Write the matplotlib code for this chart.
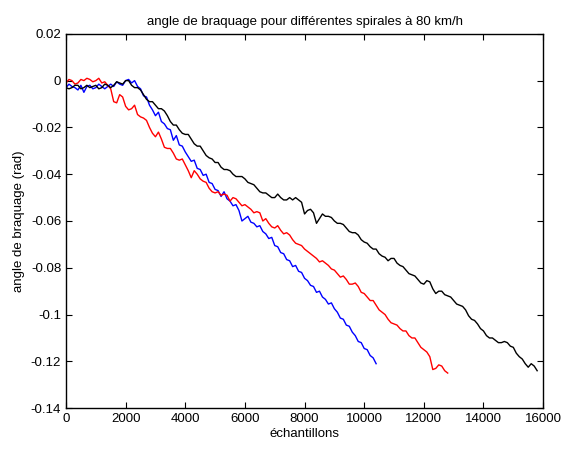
import numpy as np
import matplotlib
matplotlib.use('Agg')
import matplotlib.pyplot as plt

plt.rcParams['font.family'] = ['Liberation Sans', 'DejaVu Sans']

# --- Data (one value every 100 samples) ---
blue_x = np.arange(0, 10401, 100)
blue_y = [-0.003, -0.0015, -0.0025, -0.003, -0.004, -0.002, -0.005, -0.0025, -0.002, -0.0035,
          -0.003, -0.0015, -0.0025, -0.0035, -0.0025, -0.0015, -0.0025, -0.0005, -0.0015, -0.002,
          0.000, 0.0005, -0.001, 0.000, -0.0025, -0.0035, -0.0065, -0.007, -0.0105, -0.0125,
          -0.015, -0.0135, -0.0175, -0.0185, -0.0205, -0.021, -0.0255, -0.0235, -0.0275, -0.028,
          -0.0305, -0.0325, -0.0345, -0.034, -0.0375, -0.038, -0.0405, -0.040, -0.0435, -0.044,
          -0.0465, -0.047, -0.0495, -0.0475, -0.0505, -0.0515, -0.0535, -0.053, -0.0555, -0.060,
          -0.059, -0.058, -0.0605, -0.061, -0.0625, -0.062, -0.0645, -0.0655, -0.0675, -0.067,
          -0.0705, -0.071, -0.0735, -0.074, -0.0765, -0.077, -0.0795, -0.079, -0.0815, -0.082,
          -0.0845, -0.0855, -0.0875, -0.088, -0.0905, -0.090, -0.0925, -0.0935, -0.0955, -0.095,
          -0.0975, -0.099, -0.1015, -0.102, -0.1045, -0.105, -0.1075, -0.109, -0.1115, -0.112,
          -0.1145, -0.115, -0.1175, -0.1185, -0.121]

red_x = np.arange(0, 12801, 100)
red_y = [-0.001, 0.0005, 0.000, -0.0015, -0.001, 0.0005, 0.000, 0.001, 0.0005, -0.0005,
         0.000, 0.001, -0.001, -0.0005, -0.002, -0.0035, -0.009, -0.0095, -0.006, -0.007,
         -0.011, -0.0125, -0.012, -0.0105, -0.0145, -0.0155, -0.016, -0.017, -0.020, -0.0225,
         -0.024, -0.022, -0.025, -0.0285, -0.029, -0.029, -0.031, -0.0335, -0.034, -0.0335,
         -0.036, -0.0385, -0.0415, -0.0385, -0.040, -0.042, -0.043, -0.0435, -0.046, -0.0475,
         -0.048, -0.0475, -0.049, -0.0485, -0.049, -0.0515, -0.050, -0.0505, -0.052, -0.0535,
         -0.053, -0.054, -0.055, -0.0565, -0.056, -0.0565, -0.060, -0.059, -0.061, -0.0625,
         -0.063, -0.062, -0.064, -0.0655, -0.065, -0.066, -0.068, -0.0695, -0.070, -0.0705,
         -0.072, -0.073, -0.074, -0.0750, -0.076, -0.0775, -0.077, -0.078, -0.079, -0.0805,
         -0.081, -0.0825, -0.084, -0.0835, -0.085, -0.087, -0.087, -0.0865, -0.088, -0.0905,
         -0.091, -0.0925, -0.094, -0.094, -0.096, -0.098, -0.099, -0.100, -0.102, -0.1035,
         -0.104, -0.1045, -0.106, -0.107, -0.107, -0.109, -0.110, -0.1100, -0.112, -0.1140,
         -0.115, -0.1160, -0.118, -0.1235, -0.123, -0.1215, -0.122, -0.1240, -0.125]

black_x = np.arange(0, 15801, 100)
black_y = [-0.003, -0.0035, -0.003, -0.002, -0.002, -0.0035, -0.003, -0.002, -0.003, -0.0025,
           -0.002, -0.0035, -0.003, -0.0015, -0.002, -0.003, -0.002, -0.0005, -0.001, -0.0015,
           0.000, 0.000, -0.002, -0.003, -0.003, -0.004, -0.006, -0.008, -0.009, -0.009,
           -0.0105, -0.012, -0.012, -0.013, -0.015, -0.0175, -0.019, -0.019, -0.021, -0.0225,
           -0.023, -0.023, -0.025, -0.027, -0.028, -0.028, -0.030, -0.032, -0.033, -0.0335,
           -0.035, -0.0350, -0.037, -0.038, -0.038, -0.0385, -0.040, -0.041, -0.041, -0.0410,
           -0.042, -0.0435, -0.044, -0.0445, -0.046, -0.0475, -0.048, -0.048, -0.049, -0.050,
           -0.050, -0.0485, -0.050, -0.0510, -0.051, -0.0500, -0.051, -0.0500, -0.051, -0.052,
           -0.057, -0.0555, -0.055, -0.0565, -0.061, -0.0590, -0.057, -0.0580, -0.058, -0.0585,
           -0.060, -0.0610, -0.061, -0.0615, -0.063, -0.0645, -0.065, -0.0650, -0.066, -0.068,
           -0.069, -0.0695, -0.071, -0.0720, -0.072, -0.0740, -0.075, -0.0755, -0.077, -0.0760,
           -0.076, -0.0780, -0.079, -0.0795, -0.081, -0.0825, -0.083, -0.0835, -0.085, -0.0865,
           -0.087, -0.0855, -0.086, -0.0890, -0.091, -0.0900, -0.090, -0.0915, -0.092, -0.0925,
           -0.094, -0.0955, -0.096, -0.0965, -0.098, -0.1005, -0.102, -0.1025, -0.104, -0.1060,
           -0.107, -0.1090, -0.110, -0.1100, -0.111, -0.1120, -0.112, -0.1115, -0.112, -0.1135,
           -0.114, -0.1165, -0.118, -0.1190, -0.121, -0.1225, -0.121, -0.1220, -0.124]

x_ticks = [0, 2000, 4000, 6000, 8000, 10000, 12000, 14000, 16000]
y_ticks = [0.02, 0, -0.02, -0.04, -0.06, -0.08, -0.1, -0.12, -0.14]
y_labels = ['0.02', '0', '-0.02', '-0.04', '-0.06', '-0.08', '-0.1', '-0.12', '-0.14']

fig = plt.figure(figsize=(5.64, 4.51), dpi=100)
ax = fig.add_axes([0.117, 0.095, 0.846, 0.83])

ax.plot(blue_x, blue_y, color='blue', lw=1.0)
ax.plot(red_x, red_y, color='red', lw=1.0)
ax.plot(black_x, black_y, color='black', lw=1.0)

ax.set_xlim(0, 16000)
ax.set_ylim(-0.14, 0.02)
ax.set_xticks(x_ticks)
ax.set_xticklabels([str(t) for t in x_ticks])
ax.set_yticks(y_ticks)
ax.set_yticklabels(y_labels)
ax.tick_params(direction='in', top=True, right=True, labelsize=9.5, length=4)
for s in ax.spines.values():
    s.set_linewidth(1.0)

ax.set_title('angle de braquage pour différentes spirales à 80 km/h', fontsize=9.5)
ax.set_xlabel('échantillons', fontsize=9.5, labelpad=2)
ax.set_ylabel('angle de braquage (rad)', fontsize=9.5)

fig.savefig('out.png', dpi=100)
